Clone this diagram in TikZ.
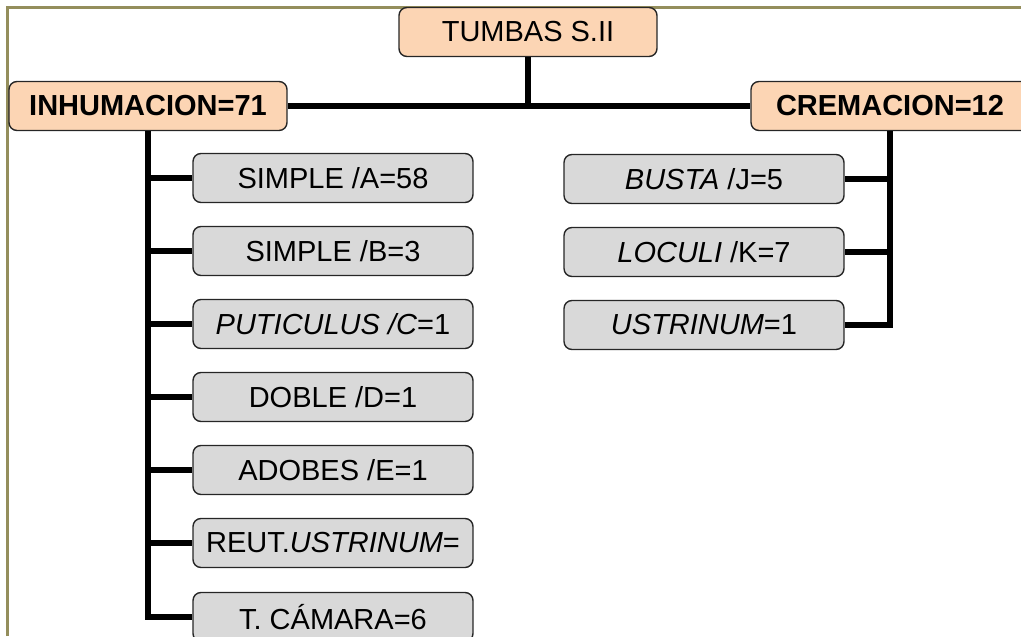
\documentclass[tikz,border=0pt]{standalone}
\usepackage{fontspec}
\setmainfont{Liberation Sans}
\usetikzlibrary{positioning}

\definecolor{peach}{RGB}{252,213,180}
\definecolor{boxgray}{RGB}{217,217,217}
\definecolor{frameolive}{RGB}{148,142,92}

\begin{document}
\begin{tikzpicture}[
    x=0.02cm, y=-0.02cm,
    font=\fontsize{16.5}{19}\selectfont,
    headbox/.style={draw=black!85, fill=peach, rounded corners=4.5pt, line width=0.8pt, minimum height=0.98cm, inner sep=2pt},
    itembox/.style={draw=black!85, fill=boxgray, rounded corners=4.5pt, line width=0.8pt, minimum width=5.6cm, minimum height=0.98cm, inner sep=2pt},
    branch/.style={line width=3.2pt, draw=black}
]
    \useasboundingbox (0,0) rectangle (1021,636);
    \clip (0,0) rectangle (1021,636);

    % --- Cadre ---
    \draw[frameolive, line width=1.4pt] (7.5,636) -- (7.5,7.5) -- (1021,7.5);

    % --- Niveau 1 : racine et deux types ---
    \node[headbox, minimum width=5.16cm] (tumbas) at (528, 32) {TUMBAS S.II};
    \node[headbox, minimum width=5.56cm] (inhum) at (148, 106) {\textbf{INHUMACION=71}};
    \node[headbox, minimum width=5.56cm] (crem) at (890, 106) {\textbf{CREMACION=12}};

    % --- Niveau 2 : inhumaciones ---
    \node[itembox] (simpa) at (333, 178) {SIMPLE /A=58};
    \node[itembox] (simpb) at (333, 251) {SIMPLE /B=3};
    \node[itembox] (putic) at (333, 324) {\textit{PUTICULUS /C}=1};
    \node[itembox] (doble) at (333, 397) {DOBLE /D=1};
    \node[itembox] (adobe) at (333, 470) {ADOBES /E=1};
    \node[itembox] (reut)  at (333, 543) {REUT.\textit{USTRINUM}=};
    \node[itembox] (camara) at (333, 617) {T. CÁMARA=6};

    % --- Niveau 2 : cremaciones ---
    \node[itembox] (busta) at (704, 179) {\textit{BUSTA} /J=5};
    \node[itembox] (loculi) at (704, 252) {\textit{LOCULI} /K=7};
    \node[itembox] (ustri) at (704, 325) {\textit{USTRINUM}=1};

    % --- Conexiones ---
    \draw[branch] (inhum.east) -- (crem.west);
    \draw[branch] (tumbas.south) -- (tumbas.south |- inhum.east);

    \draw[branch] (inhum.south) |- (camara.west);
    \foreach \n in {simpa,simpb,putic,doble,adobe,reut}
        \draw[branch] (inhum.south |- \n.west) -- (\n.west);

    \draw[branch] (crem.south) |- (ustri.east);
    \foreach \n in {busta,loculi}
        \draw[branch] (crem.south |- \n.east) -- (\n.east);

\end{tikzpicture}
\end{document}
